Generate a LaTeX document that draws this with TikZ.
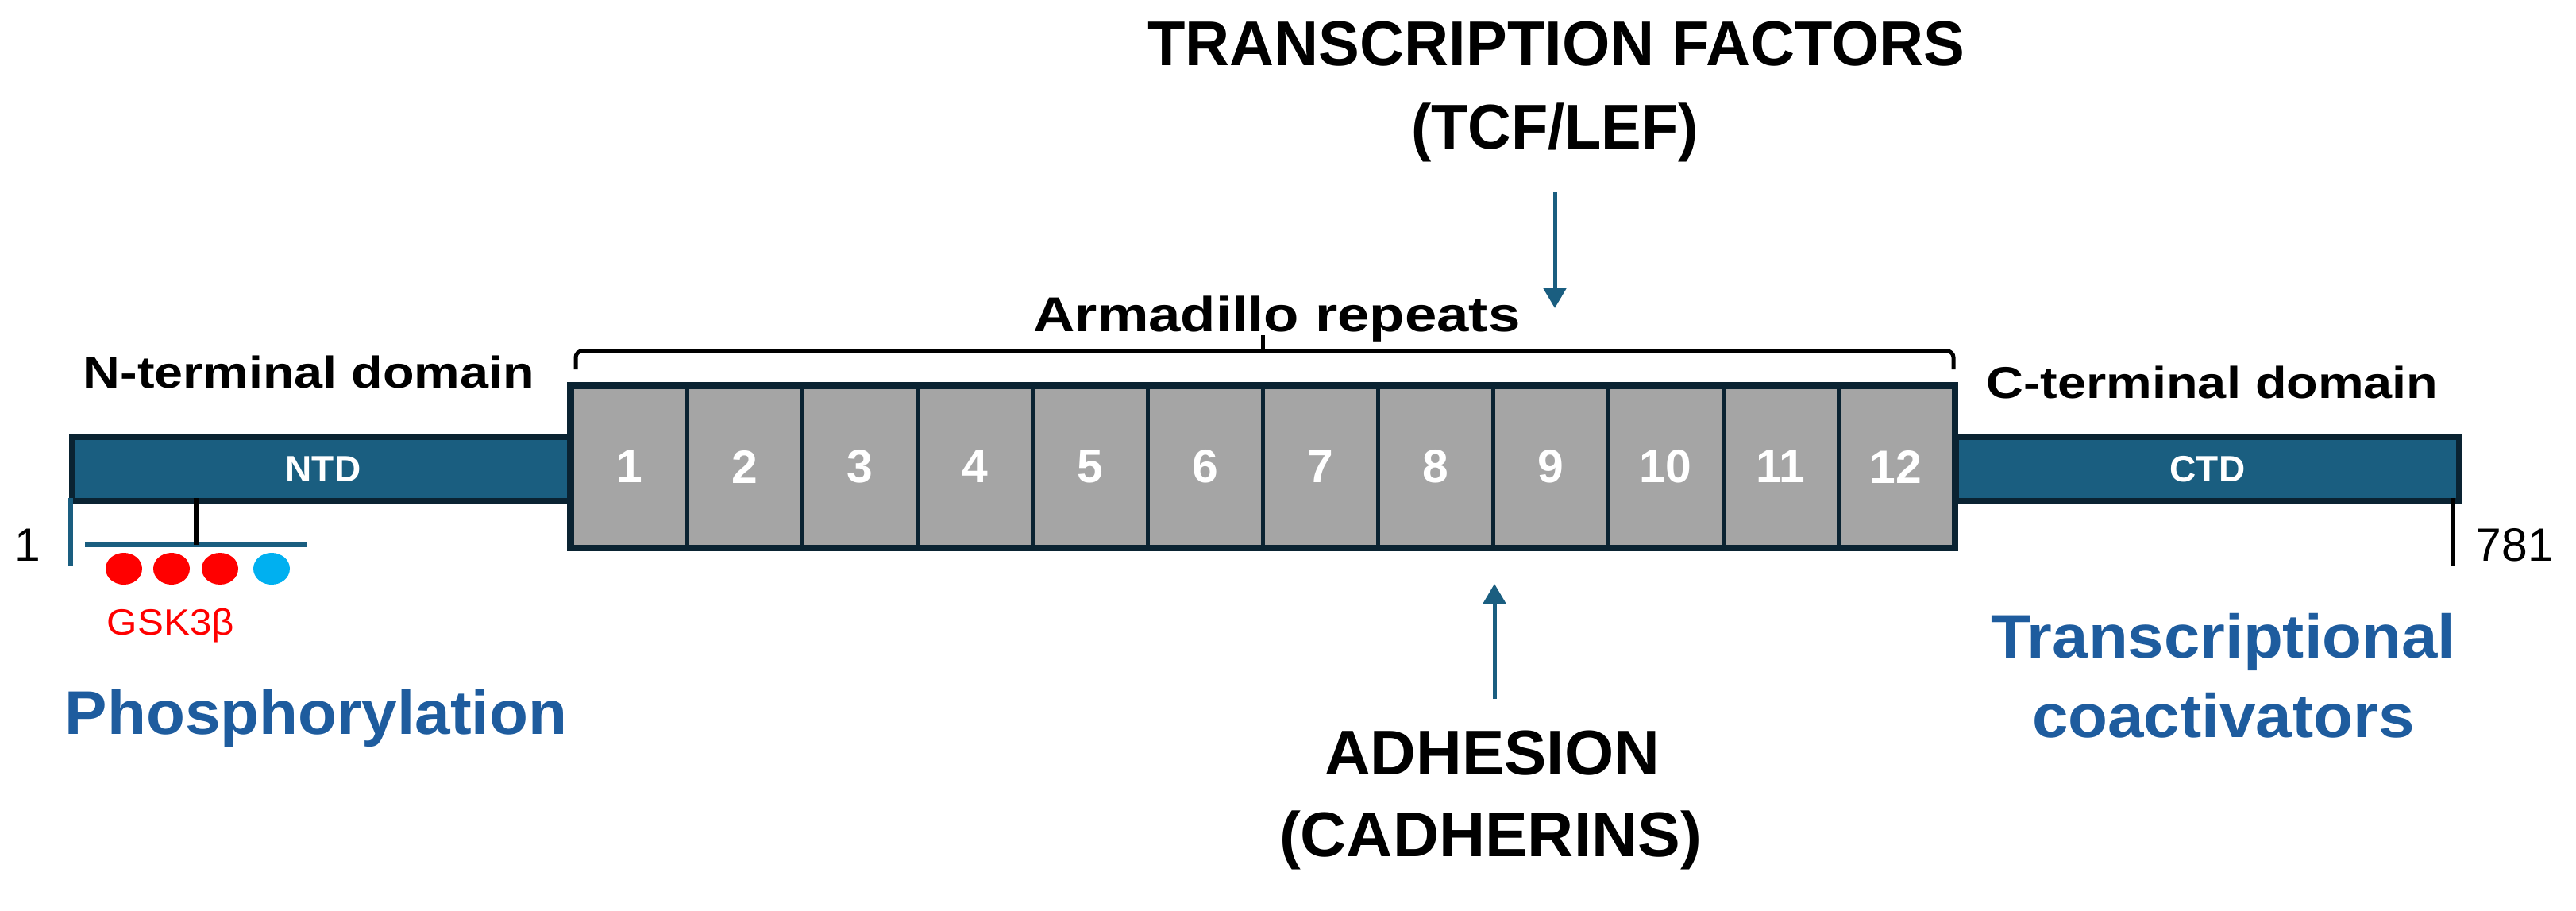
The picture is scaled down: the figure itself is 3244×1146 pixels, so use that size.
\documentclass[tikz,border=0pt]{standalone}
\usepackage{fontspec}
\setmainfont{Liberation Sans}
\usepackage{graphicx}
\usetikzlibrary{arrows.meta}
\definecolor{barblue}{RGB}{26,94,128}
\definecolor{navy}{RGB}{10,35,50}
\definecolor{boxgrey}{RGB}{165,165,165}
\definecolor{txtblue}{RGB}{30,92,158}
\definecolor{dotred}{RGB}{255,0,0}
\definecolor{dotblue}{RGB}{0,176,240}
\newlength\pxu \setlength\pxu{0.25pt}
\newcommand\fitw[2]{\resizebox{#1\pxu}{\height}{#2}}
\newcommand\fsz[1]{\fontsize{#1}{#1}\selectfont}
\begin{document}
\begin{tikzpicture}[x=0.25pt,y=-0.25pt,
  lbl/.style={inner sep=0pt,outer sep=0pt,anchor=base},
  domainbar/.style={draw=navy,fill=barblue,line width=1.75pt,minimum width=158.25pt,minimum height=20pt,inner sep=0pt,anchor=north west,text=white,font=\fsz{11.5pt}\bfseries},
  repeatbox/.style={draw=navy,fill=boxgrey,line width=1.25pt,minimum width=36.25pt,minimum height=50.25pt,inner sep=0pt,text=white,font=\fsz{14.7pt}\bfseries},
  pointer/.style={draw=barblue,line width=1.25pt,-{Triangle[width=7pt,length=6.25pt]}},
  bigbold/.style={lbl,font=\fsz{19.9pt}\bfseries},
  bluebold/.style={lbl,text=txtblue,font=\fsz{19.4pt}\bfseries},
  domlabel/.style={lbl,font=\fsz{14pt}\bfseries},
  ticklbl/.style={lbl,font=\fsz{14.7pt}},
  tickline/.style={line width=1.5pt}
]
\useasboundingbox (0,0) rectangle (3244,1146);

% domain bars
\node[domainbar] (ntd) at (87,547) {NTD};
\node[domainbar] (ctd) at (2460,547) {CTD};

% armadillo repeats
\foreach \i in {1,...,12} {
  \node[repeatbox] (r\i) at ({720+145*(\i-0.5)},587.5) {\i};
}
\draw[navy,line width=1.75pt] (r1.north west) rectangle (r12.south east);

% bracket
\coordinate (brL) at (725,465);
\coordinate (brR) at (2460,465);
\coordinate (brC) at (1590,422);
\draw[line width=1.25pt,rounded corners=2pt] (brL) -- (725,442) -- (2460,442) -- (brR);
\draw[line width=1.25pt] (1590,442) -- (brC);
\node[domlabel,font=\fsz{15.4pt}\bfseries] (arm) at (1608,417) {\fitw{613}{Armadillo repeats}};

% domain labels
\node[domlabel] (nlab) at (389,488) {\fitw{568}{N-terminal domain}};
\node[domlabel] (clab) at (2786,501) {\fitw{569}{C-terminal domain}};

% ends
\coordinate (nend) at (89,713);
\coordinate (cend) at (3089,713);
\draw[tickline,barblue] (89,627) -- (nend);
\draw[tickline,black] (3089,627) -- (cend);
\node[ticklbl] (one) at (35,706) {1};
\node[ticklbl] (last) at (3167,706) {781};

% phosphorylation sites
\coordinate (sitesL) at (107,686);
\coordinate (sitesR) at (387,686);
\draw[tickline,barblue] (sitesL) -- (sitesR);
\draw[tickline,black] (247,627) -- (247,686);
\fill[dotred] (156,716) ellipse [x radius=5.75pt, y radius=5pt];
\fill[dotred] (216,716) ellipse [x radius=5.75pt, y radius=5pt];
\fill[dotred] (277,716) ellipse [x radius=5.75pt, y radius=5pt];
\fill[dotblue] (342,716) ellipse [x radius=5.75pt, y radius=5pt];
\node[lbl,text=dotred,font=\fsz{11.5pt}] (gsk) at (215,799) {\fitw{160}{GSK3β}};
\node[bluebold] (phos) at (398,924) {\fitw{632}{Phosphorylation}};

% transcriptional coactivators
\node[bluebold] (tc1) at (2800,828) {\fitw{585}{Transcriptional}};
\node[bluebold] (tc2) at (2800,928) {\fitw{482}{coactivators}};

% transcription factors
\node[bigbold] (tf1) at (1960,82) {\fitw{1029}{TRANSCRIPTION FACTORS}};
\node[bigbold] (tf2) at (1958,187) {\fitw{362}{(TCF/LEF)}};
\coordinate (tfA) at (1958,242);
\coordinate (tfB) at (1958,388);
\draw[pointer] (tfA) -- (tfB);

% adhesion
\coordinate (adA) at (1882,880);
\coordinate (adB) at (1882,735);
\draw[pointer] (adA) -- (adB);
\node[bigbold] (ad1) at (1879,975) {\fitw{422}{ADHESION}};
\node[bigbold] (ad2) at (1877,1078) {\fitw{532}{(CADHERINS)}};
\end{tikzpicture}
\end{document}
